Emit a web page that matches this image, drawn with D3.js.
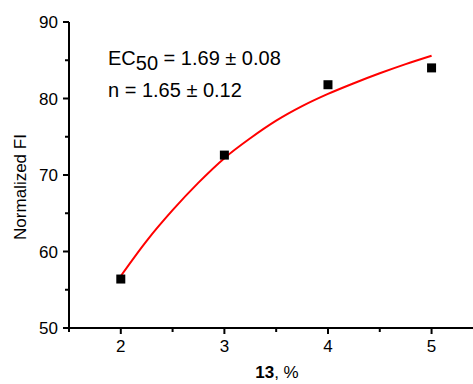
<!DOCTYPE html>
<html><head><meta charset="utf-8">
<script src="https://cdn.jsdelivr.net/npm/d3@7"></script>
<style>body{margin:0;background:#fff}svg{display:block;font-family:"Liberation Sans",Arial,sans-serif}</style>
</head><body><svg id="c" width="473" height="384"></svg>
<script>
const pointX = [2, 3, 4, 5];
const pointY = [56.4, 72.6, 81.8, 84.0];
const fitX = [2, 2.25, 2.5, 2.75, 3, 3.25, 3.5, 3.75, 4, 4.25, 4.5, 4.75, 5];
const fitY = [56.8, 61.4, 65.4, 69.0, 72.2, 74.8, 77.1, 79.0, 80.6, 82.0, 83.3, 84.5, 85.6];
const xTicks = [2, 3, 4, 5];
const xMinor = [1.5, 2.5, 3.5, 4.5];
const yTicks = [50, 60, 70, 80, 90];
const yMinor = [55, 65, 75, 85];

const svg = d3.select("#c");
const x = d3.scaleLinear().domain([1.5, 5.4]).range([69, 473]);
const y = d3.scaleLinear().domain([50, 90]).range([328, 22]);

// x axis
const gx = svg.append("g").attr("transform","translate(0,328)");
gx.append("line").attr("x1",x.range()[0]).attr("x2",x.range()[1]).attr("stroke","#000").attr("stroke-width",2);
gx.selectAll(".mj").data(xTicks).join("line").attr("x1",d=>x(d)).attr("x2",d=>x(d)).attr("y1",0).attr("y2",6).attr("stroke","#000").attr("stroke-width",2);
gx.selectAll(".mn").data(xMinor).join("line").attr("class","mn").attr("x1",d=>x(d)).attr("x2",d=>x(d)).attr("y1",0).attr("y2",4).attr("stroke","#000").attr("stroke-width",2);
gx.selectAll("text").data(xTicks).join("text").attr("x",d=>x(d)).attr("y",24).attr("text-anchor","middle").attr("font-size",17).text(d=>d);

// y axis
const gy = svg.append("g").attr("transform","translate(69,0)");
gy.append("line").attr("y1",y.range()[0]+1).attr("y2",y.range()[1]).attr("stroke","#000").attr("stroke-width",2);
gy.selectAll(".mj").data(yTicks).join("line").attr("y1",d=>y(d)).attr("y2",d=>y(d)).attr("x1",0).attr("x2",-6).attr("stroke","#000").attr("stroke-width",2);
gy.selectAll(".mn").data(yMinor).join("line").attr("class","mn").attr("y1",d=>y(d)).attr("y2",d=>y(d)).attr("x1",0).attr("x2",-4).attr("stroke","#000").attr("stroke-width",2);
gy.selectAll("text").data(yTicks).join("text").attr("x",-11).attr("y",d=>y(d)).attr("dy","0.36em").attr("text-anchor","end").attr("font-size",17).text(d=>d);

// titles
svg.append("text").attr("transform","translate(26,187) rotate(-90)").attr("text-anchor","middle").attr("font-size",17).text("Normalized FI");
const xt = svg.append("text").attr("x",277).attr("y",378).attr("text-anchor","middle").attr("font-size",17);
xt.append("tspan").attr("font-weight","bold").text("13");
xt.append("tspan").text(", %");

// fit curve
const fit = fitX.map((d,i)=>[d, fitY[i]]);
svg.append("path").datum(fit).attr("fill","none").attr("stroke","#ff0000").attr("stroke-width",2)
  .attr("d", d3.line().x(d=>x(d[0])).y(d=>y(d[1])).curve(d3.curveMonotoneX));

// points
const pts = pointX.map((d,i)=>[d, pointY[i]]);
svg.selectAll(".pt").data(pts).join("rect").attr("x",d=>x(d[0])-4.5).attr("y",d=>y(d[1])-4.5).attr("width",9).attr("height",9).attr("fill","#000");

// annotation
const t1 = svg.append("text").attr("x",108).attr("y",65).attr("font-size",20);
t1.append("tspan").text("EC");
t1.append("tspan").attr("dy",5).text("50");
t1.append("tspan").attr("dy",-5).text(" = 1.69 ± 0.08");
svg.append("text").attr("x",108).attr("y",97).attr("font-size",20).text("n = 1.65 ± 0.12");
</script></body></html>
